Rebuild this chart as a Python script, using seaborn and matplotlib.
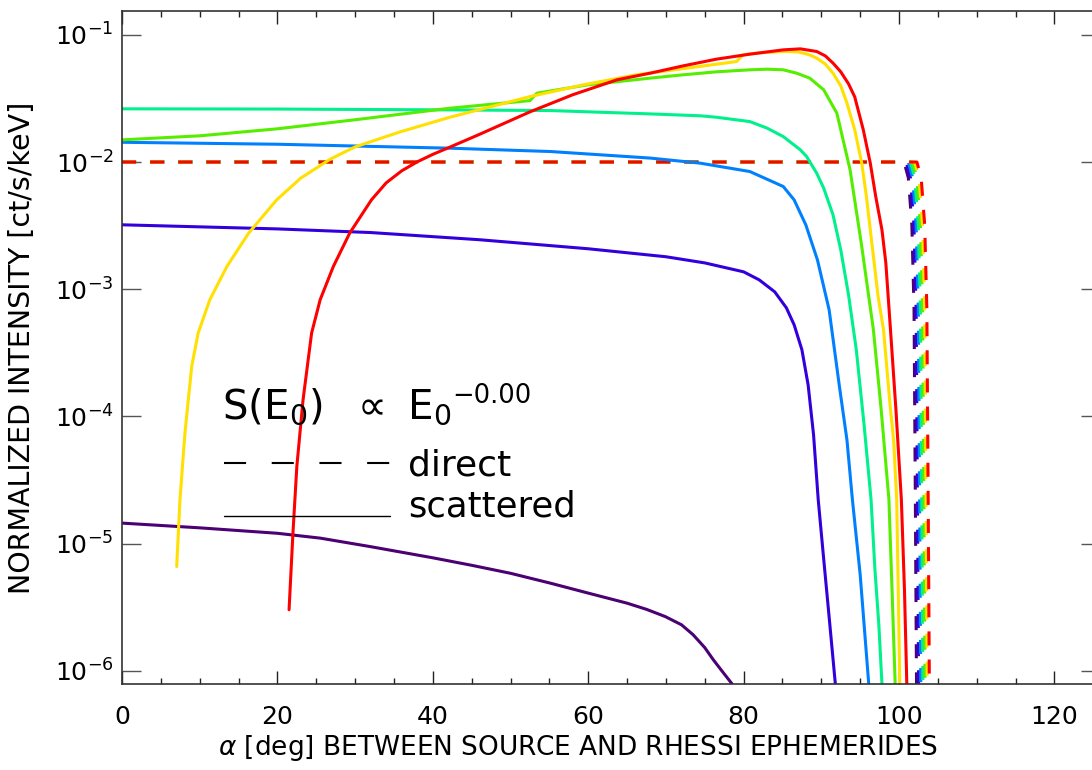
import numpy as np
import pandas as pd
import matplotlib
matplotlib.use("Agg")
import matplotlib.pyplot as plt
import seaborn as sns
from matplotlib.ticker import FixedLocator, MultipleLocator, NullLocator, FuncFormatter

# ---------------- data ----------------
alpha_purple = [0, 10, 20, 25.5, 31.9, 40, 45, 50, 55.1, 60, 65, 67.5, 69.9, 72, 73.5,
                75, 76.1, 77.3, 78.5]
int_purple = [1.449e-5, 1.33e-5, 1.205e-5, 1.104e-5, 9.48e-6, 7.73e-6, 6.75e-6, 5.84e-6,
              4.89e-6, 4.08e-6, 3.40e-6, 3.04e-6, 2.67e-6, 2.30e-6, 1.92e-6, 1.52e-6,
              1.22e-6, 9.8e-7, 7.9e-7]

alpha_violet = [0, 20, 32, 46, 60, 70, 75, 80, 82, 84, 85.5, 86.5, 87.5, 88.3, 89.0,
                89.6, 90.3, 91.0, 91.8]
int_violet = [3.21e-3, 2.98e-3, 2.79e-3, 2.45e-3, 2.08e-3, 1.80e-3, 1.61e-3, 1.37e-3,
              1.185e-3, 9.54e-4, 7.14e-4, 5.25e-4, 3.34e-4, 1.77e-4, 7.16e-5, 2.21e-5,
              7.6e-6, 2.66e-6, 7.9e-7]

alpha_blue = [0, 20, 42.2, 55.1, 68, 74.4, 80.8, 85.1, 86.5, 88, 89.5, 91, 92.3, 93.3,
              94, 95, 96.1]
int_blue = [1.43e-2, 1.38e-2, 1.285e-2, 1.21e-2, 1.074e-2, 9.8e-3, 8.42e-3, 6.42e-3,
            5.04e-3, 3.21e-3, 1.70e-3, 6.9e-4, 1.77e-4, 6.5e-5, 2.21e-5, 5.69e-6, 7.9e-7]

alpha_aqua = [0, 20, 42.2, 55.1, 68, 74.4, 76.5, 80.8, 83.0, 85.1, 87.3, 88.1, 89.4,
              90.3, 91.5, 92.5, 93.5, 94.5, 95.5, 96.4, 96.9, 97.4, 97.8]
int_aqua = [2.62e-2, 2.61e-2, 2.57e-2, 2.54e-2, 2.39e-2, 2.31e-2, 2.25e-2, 2.08e-2,
            1.85e-2, 1.585e-2, 1.247e-2, 1.105e-2, 8.18e-3, 6.24e-3, 3.85e-3, 2.04e-3,
            9.04e-4, 3.34e-4, 8.6e-5, 2.21e-5, 6.2e-6, 2.30e-6, 7.9e-7]

alpha_green = [0, 10, 20, 30, 42.2, 52.5, 53.4, 60, 68.0, 72.2, 76.5, 80.8, 83.0, 85.1,
               86.8, 88.5, 90.3, 92.0, 93.7, 95.2, 96.7, 97.7, 98.7, 99.1, 99.5]
int_green = [1.494e-2, 1.607e-2, 1.825e-2, 2.15e-2, 2.65e-2, 3.04e-2, 3.48e-2, 4.05e-2,
             4.57e-2, 4.85e-2, 5.12e-2, 5.31e-2, 5.37e-2, 5.31e-2, 5.0e-2, 4.57e-2,
             3.70e-2, 2.42e-2, 8.68e-3, 2.17e-3, 4.8e-4, 1.13e-4, 2.21e-5, 4.3e-6, 7.9e-7]

alpha_yellow = [7.04, 7.46, 8.1, 8.97, 9.8, 11.3, 13.5, 16.3, 19.9, 23, 26.8, 30, 35.8,
                42.2, 52.5, 59.4, 66.2, 72, 79.1, 79.9, 82, 85.1, 87, 88.5, 89.4, 90.5,
                91.5, 92.5, 93.3, 94.3, 95.2, 95.8, 96.3, 96.8, 97.3, 98.0, 98.9, 99.3,
                99.7, 100.1]
int_yellow = [6.6e-6, 2.21e-5, 7.4e-5, 2.47e-4, 4.52e-4, 8.26e-4, 1.51e-3, 2.76e-3,
              5.04e-3, 7.47e-3, 1.054e-2, 1.315e-2, 1.727e-2, 2.25e-2, 3.27e-2, 4.05e-2,
              4.85e-2, 5.4e-2, 6.17e-2, 6.96e-2, 7.22e-2, 7.4e-2, 7.35e-2, 6.96e-2,
              6.56e-2, 5.9e-2, 5.0e-2, 3.97e-2, 2.9e-2, 1.79e-2, 9.8e-3, 5.36e-3,
              2.93e-3, 1.61e-3, 8.8e-4, 4.8e-4, 1.13e-4, 6.5e-5, 2.21e-5, 7.9e-7]

alpha_red = [21.5, 22.0, 22.5, 23.3, 24.4, 25.5, 27.2, 29.3, 32.1, 34, 36, 38, 40, 42.2,
             46, 52.5, 58, 63.7, 68.0, 72.2, 76.5, 80.8, 85.1, 87.3, 89.4, 90.5, 91.5,
             92.5, 93.5, 94.3, 95.4, 96.3, 97.0, 97.8, 98.3, 98.6, 98.9, 99.6, 100.3,
             100.7, 101.0]
int_red = [3.02e-6, 1.21e-5, 4.04e-5, 1.35e-4, 4.52e-4, 8.26e-4, 1.51e-3, 2.76e-3,
           5.04e-3, 6.86e-3, 8.53e-3, 1.004e-2, 1.149e-2, 1.31e-2, 1.65e-2, 2.48e-2,
           3.38e-2, 4.43e-2, 5.0e-2, 5.7e-2, 6.44e-2, 7.05e-2, 7.62e-2, 7.76e-2, 7.4e-2,
           6.84e-2, 6.0e-2, 5.12e-2, 4.12e-2, 3.25e-2, 1.79e-2, 9.8e-3, 5.36e-3,
           2.93e-3, 1.61e-3, 8.8e-4, 4.8e-4, 1.13e-4, 2.21e-5, 4.3e-6, 7.9e-7]

# direct (unscattered) component: flat level, then a steep cut-off near 102-104 deg
direct_level = 1e-2
direct_cutoff = [102.25, 102.52, 102.8, 103.07, 103.35, 103.62, 103.9]   # per curve
direct_drop_dx = [-1.6, -1.05, -0.6, -0.32, -0.15, 0.0]
direct_drop_y = [1e-2, 7.5e-3, 3.2e-3, 7.0e-4, 2.2e-5, 7.8e-7]

colors = ["#4b0073", "#3300dd", "#0080ff", "#00f08c", "#55ee00", "#ffe000", "#ff0000"]
scattered = [(alpha_purple, int_purple), (alpha_violet, int_violet),
             (alpha_blue, int_blue), (alpha_aqua, int_aqua),
             (alpha_green, int_green), (alpha_yellow, int_yellow),
             (alpha_red, int_red)]

ytick_vals = [1e-6, 1e-5, 1e-4, 1e-3, 1e-2, 1e-1]

# ---------------- figure ----------------
sns.set_theme(style="ticks")
plt.rcParams["font.family"] = ["DejaVu Sans"]
plt.rcParams["mathtext.fontset"] = "dejavusans"
plt.rcParams["text.color"] = "black"
plt.rcParams["xtick.labelcolor"] = "black"
plt.rcParams["ytick.labelcolor"] = "black"

fig = plt.figure(figsize=(10.92, 7.7), dpi=100)
ax = fig.add_axes([122 / 1092, 86 / 770, 971.3 / 1092, 673 / 770])
ax.set_yscale("log")

LW = 2.2
# direct curves (dashed)
for k, c in enumerate(colors):
    xs = [0.0] + [direct_cutoff[k] + d for d in direct_drop_dx]
    ys = [direct_level] + direct_drop_y
    sns.lineplot(x=xs, y=ys, color=c, lw=LW, ax=ax, sort=False,
                 estimator=None, errorbar=None)
    ax.lines[-1].set_dashes((4.6, 4.6))
    ax.lines[-1].set_dash_capstyle("butt")

# scattered curves (solid)
for (xs, ys), c in zip(scattered, colors):
    sns.lineplot(x=xs, y=ys, color=c, lw=LW, ax=ax, sort=False,
                 estimator=None, errorbar=None)
    ax.lines[-1].set_solid_joinstyle("round")

ax.set_xlim(0, 125)
ax.set_ylim(7.87e-7, 0.154)

ax.xaxis.set_major_locator(MultipleLocator(20))
ax.xaxis.set_minor_locator(MultipleLocator(5))
ax.yaxis.set_major_locator(FixedLocator(ytick_vals))
ax.yaxis.set_minor_locator(NullLocator())
ax.yaxis.set_major_formatter(
    FuncFormatter(lambda v, p: r"$\mathregular{10^{%d}}$" % int(round(np.log10(v)))))

ax.tick_params(axis="x", which="major", direction="in", length=9.4, width=1.0,
               top=True, bottom=True, pad=15, labelsize=18, color="#222222",
               labelcolor="black")
ax.tick_params(axis="x", which="minor", direction="in", length=4.6, width=1.0,
               top=True, bottom=True, color="#222222")
ax.tick_params(axis="y", which="major", direction="in", length=14, width=1.0,
               left=True, right=False, pad=6, labelsize=18, color="#555555",
               labelcolor="black")

sec = ax.secondary_yaxis("right")
sec.yaxis.set_major_locator(FixedLocator(ytick_vals))
sec.yaxis.set_minor_locator(NullLocator())
sec.tick_params(axis="y", which="major", direction="in", length=8.6, width=1.0,
                labelright=False, color="#555555")

for s in ax.spines.values():
    s.set_color("#333333")
    s.set_linewidth(1.2)
for s in sec.spines.values():
    s.set_color("#333333")

ax.set_xlabel("")
ax.set_ylabel("")

fig.text(218 / 1092, 1 - 748 / 770,
         r"$\alpha$ [deg] BETWEEN SOURCE AND RHESSI EPHEMERIDES",
         ha="left", va="center", fontsize=19, color="black")
fig.text(22 / 1092, 1 - 347.5 / 770, "NORMALIZED INTENSITY [ct/s/keV]",
         rotation=90, ha="center", va="center", fontsize=20.5, color="black")

# annotation block
ax.text(0.103, 0.394, r"$\mathregular{S(E_0)\ \ \propto\ E_0}$",
        transform=ax.transAxes, fontsize=29, ha="left", va="baseline", color="black")
ax.text(0.3397, 0.4175, "\u22120.00", transform=ax.transAxes, fontsize=18.5,
        ha="left", va="baseline", color="black")
ax.plot([0.105, 0.276], [0.3284, 0.3284], transform=ax.transAxes, color="black",
        lw=1.5, dashes=(10.6, 12.3), dash_capstyle="butt")
ax.plot([0.105, 0.276], [0.250, 0.250], transform=ax.transAxes, color="black", lw=1.0)
ax.text(0.2945, 0.3105, "direct", transform=ax.transAxes, fontsize=26,
        ha="left", va="baseline", color="black")
ax.text(0.2945, 0.249, "scattered", transform=ax.transAxes, fontsize=25.5,
        ha="left", va="baseline", color="black")

fig.savefig("out.png", dpi=100)
